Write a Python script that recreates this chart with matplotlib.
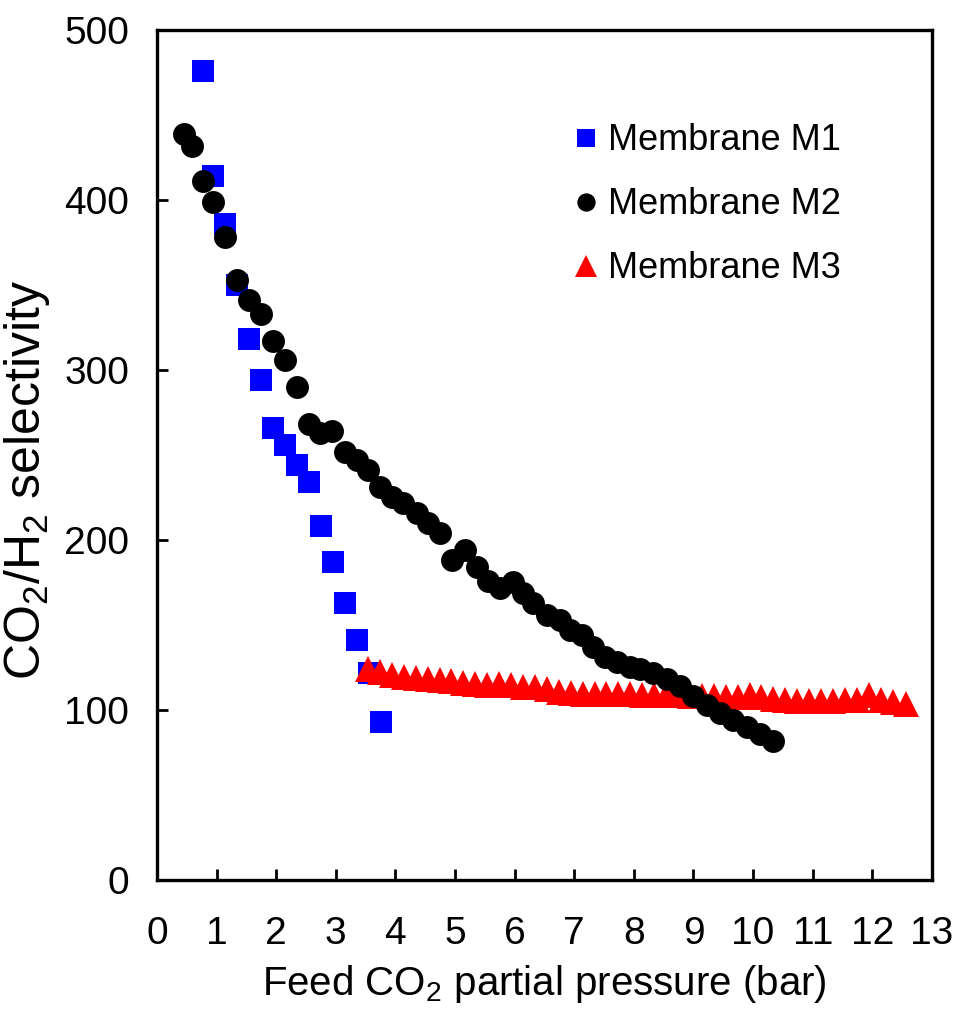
# CO2/H2 selectivity vs feed CO2 partial pressure for three membranes

from matplotlib import pyplot as plt

plt.rcParams['font.family'] = ['Liberation Sans', 'DejaVu Sans']
plt.rcParams['mathtext.fontset'] = 'custom'
plt.rcParams['mathtext.rm'] = 'Liberation Sans'
plt.rcParams['mathtext.it'] = 'Liberation Sans:italic'

# membrane M1 (blue squares)
m1_p = [0.77, 0.94, 1.14, 1.34, 1.54, 1.74, 1.95, 2.15, 2.35, 2.55,
        2.75, 2.95, 3.15, 3.36, 3.56, 3.76]
m1_sel = [476, 414, 386, 350, 318, 294, 266, 256, 244, 234,
          208, 187, 163, 141, 122, 93]

# membrane M2 (black circles)
m2_p = [0.45, 0.59, 0.77, 0.94, 1.14, 1.34, 1.54, 1.74, 1.95, 2.15,
        2.35, 2.55, 2.74, 2.94, 3.15, 3.36, 3.54, 3.74, 3.94, 4.13,
        4.36, 4.55, 4.75, 4.95, 5.17, 5.37, 5.55, 5.76, 5.97, 6.14,
        6.31, 6.54, 6.76, 6.93, 7.13, 7.32, 7.52, 7.72, 7.93, 8.10,
        8.32, 8.56, 8.78, 8.99, 9.23, 9.45, 9.66, 9.90, 10.12, 10.34]
m2_sel = [439, 432, 411, 399, 378, 353, 341, 333, 317, 306,
          290, 268, 263, 264, 252, 247, 241, 231, 225, 222,
          216, 210, 204, 188, 194, 184, 176, 172, 175, 169,
          163, 156, 153, 147, 144, 137, 131, 128, 125, 124,
          122, 118, 114, 108, 103, 98, 94, 90, 86, 82]

# membrane M3 (red triangles)
m3_p = [3.54, 3.74, 3.94, 4.14, 4.34, 4.54, 4.74, 4.94, 5.14, 5.34,
        5.54, 5.74, 5.94, 6.14, 6.34, 6.54, 6.74, 6.94, 7.14, 7.34,
        7.54, 7.74, 7.94, 8.14, 8.34, 8.54, 8.74, 8.94, 9.14, 9.34,
        9.54, 9.74, 9.94, 10.14, 10.34, 10.54, 10.74, 10.94, 11.14, 11.34,
        11.54, 11.74, 11.94, 12.14, 12.34, 12.56]
m3_sel = [124.1, 122.4, 120.6, 119.4, 118.8, 118.2, 117.6, 117.1, 115.9, 115.3,
          114.7, 115.3, 114.7, 113.5, 113.5, 112.4, 110.6, 110.0, 109.4, 109.4,
          109.4, 109.4, 109.4, 108.8, 108.8, 108.8, 108.8, 108.2, 108.2, 108.2,
          107.6, 107.6, 108.8, 107.6, 106.5, 105.9, 105.3, 105.3, 105.3, 105.3,
          105.9, 105.9, 108.8, 105.9, 104.7, 103.5]

x_ticks = list(range(0, 14))
y_ticks = [0, 100, 200, 300, 400, 500]

fig = plt.figure(figsize=(9.72, 10.25), dpi=100)
ax = fig.add_axes([0.1615, 0.1415, 0.7973, 0.8293])

ax.plot(m1_p, m1_sel, 's', color='#0000ff', markersize=15.5, markeredgewidth=0,
        label='Membrane M1', zorder=2)
ax.plot(m2_p, m2_sel, 'o', color='black', markersize=16.5, markeredgewidth=0,
        label='Membrane M2', zorder=4)
ax.plot(m3_p, m3_sel, '^', color='#ff0000', markersize=19, markeredgewidth=0,
        label='Membrane M3', zorder=3)

ax.set_xlim(0, 13)
ax.set_ylim(0, 500)
ax.set_xticks(x_ticks)
ax.set_yticks(y_ticks)
ax.tick_params(axis='x', direction='in', length=8, width=2, pad=26, labelsize=28)
ax.tick_params(axis='y', direction='in', length=8, width=2, pad=20, labelsize=28)
for s in ax.spines.values():
    s.set_linewidth(2.4)

ax.set_xlabel('Feed CO$_2$ partial pressure (bar)', fontsize=29, labelpad=8)
ax.set_ylabel('CO$_2$/H$_2$ selectivity', fontsize=36)
ax.yaxis.set_label_coords(-0.135, 0.47)

ax.legend(loc='upper left', bbox_to_anchor=(0.54, 0.89), frameon=False,
          fontsize=26, handlelength=0.6, handletextpad=0.3, labelspacing=0.8,
          borderpad=0, borderaxespad=0, markerscale=0.8)

plt.savefig('out.png', dpi=100)
plt.close()
